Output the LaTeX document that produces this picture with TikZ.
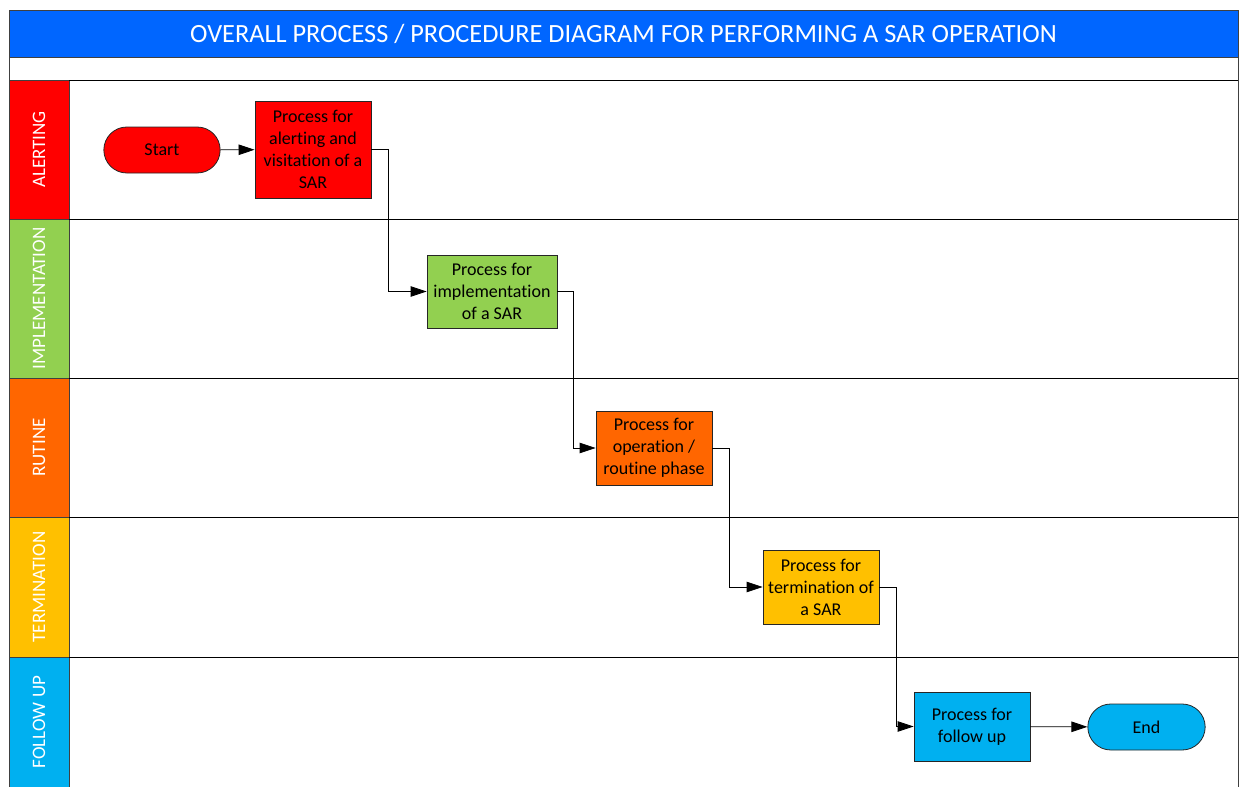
\documentclass[tikz,border=0pt]{standalone}
\usepackage{fontspec}
\setmainfont{Carlito}[Ligatures=NoCommon]
\usetikzlibrary{arrows.meta,shapes.misc}
\definecolor{titleblue}{HTML}{0066FF}
\definecolor{laneRed}{HTML}{FF0000}
\definecolor{laneGreen}{HTML}{92D050}
\definecolor{laneOrange}{HTML}{FF6600}
\definecolor{laneYellow}{HTML}{FFC000}
\definecolor{laneBlue}{HTML}{00B0F0}
\definecolor{frame}{HTML}{404040}
\tikzset{
  lanehead/.style={draw=frame, line width=0.8pt},
  lanelabel/.style={text=white, rotate=90, font=\fontsize{19}{21}\selectfont},
  procbox/.style={draw=black!85, line width=0.8pt, rectangle, minimum width=116pt,
    align=center, inner sep=1pt, font=\fontsize{18}{22}\selectfont},
  terminal/.style={draw=black!85, line width=0.8pt, rounded rectangle, minimum width=123pt,
    minimum height=46pt, font=\fontsize{18}{20}\selectfont},
  flow/.style={draw=black, line width=0.8pt, -{Triangle[length=16pt,width=10.5pt]}},
}
\begin{document}
\begin{tikzpicture}[x=1pt,y=-1pt]
\useasboundingbox (0,0) rectangle (1240,787);
% title bar and blank strip
\fill[titleblue] (9,10) rectangle (1238,57);
\draw[frame, line width=0.8pt] (9,10) rectangle (1238,57);
\node[text=white, font=\fontsize{26.3}{28}\selectfont] (title) at (623.5,33.5)
  {OVERALL PROCESS / PROCEDURE DIAGRAM FOR PERFORMING A SAR OPERATION};
\draw[frame, line width=0.8pt] (9,57) -- (9,787) (1238,57) -- (1238,787);
% swimlanes
\foreach \top/\bot/\col/\lbl in {80/219/laneRed/ALERTING,
    219/378/laneGreen/IMPLEMENTATION,
    378/517/laneOrange/RUTINE,
    517/657/laneYellow/TERMINATION,
    657/795/laneBlue/FOLLOW UP}{
  \fill[\col] (9,\top) rectangle (69,\bot);
  \draw[lanehead] (9,\top) rectangle (69,\bot);
  \draw[black, line width=0.7pt] (69,\top) -- (1238,\top);
  \node[lanelabel] at (39,{(\top+min(\bot,787))/2}) {\lbl};
}
% process steps
\node[terminal, fill=laneRed] (start) at (162,150) {Start};
\node[procbox, fill=laneRed, minimum height=97pt] (alert) at (313,149.5)
  {Process for\\alerting and\\visitation of a\\SAR};
\node[procbox, fill=laneGreen, minimum width=130pt, minimum height=73pt] (impl) at (492,291.5)
  {Process for\\implementation\\of a SAR};
\node[procbox, fill=laneOrange, minimum height=74pt] (rout) at (654,448)
  {Process for\\operation /\\routine phase};
\node[procbox, fill=laneYellow, minimum height=74pt] (term) at (821,587)
  {Process for\\termination of\\a SAR};
\node[procbox, fill=laneBlue, minimum height=69pt] (follow) at (972,726.5)
  {Process for\\follow up};
\node[terminal, fill=laneBlue, minimum width=124pt] (end) at (1146.5,727) {End};
% connectors
\draw[flow] (start) -- (alert);
\draw[flow] (alert.east) -- ++(17,0) |- (impl.west);
\draw[flow] (impl.east) -- ++(16,0) |- (rout.west);
\draw[flow] (rout.east) -- ++(17,0) |- (term.west);
\draw[flow] (term.east) -- ++(17,0) |- (follow.west);
\draw[flow] (follow) -- (end);
\end{tikzpicture}
\end{document}
